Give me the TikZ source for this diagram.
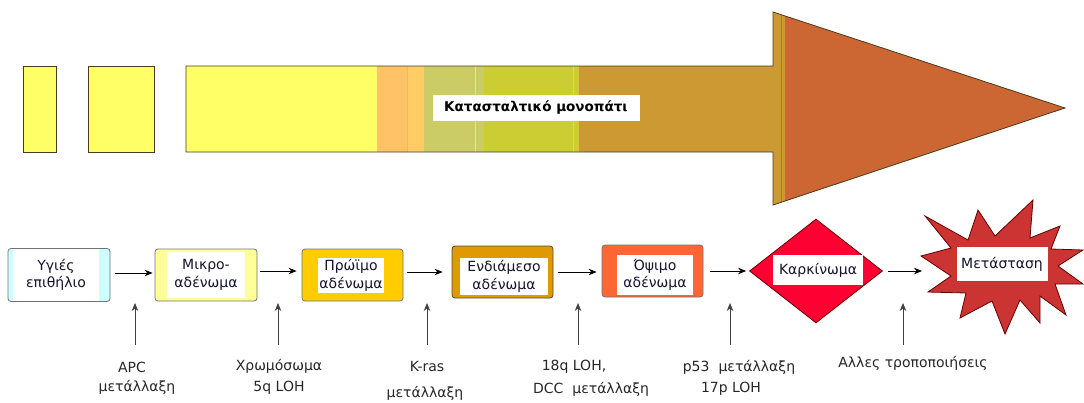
\documentclass[tikz,border=0pt]{standalone}
\usepackage{fontspec}
\setmainfont{DejaVu Sans}
\usetikzlibrary{shapes.geometric,arrows.meta}
\definecolor{ylw}{HTML}{FFFF66}
\definecolor{bandA}{HTML}{FFC266}
\definecolor{bandB}{HTML}{FFCC66}
\definecolor{bandC}{HTML}{CCCC66}
\definecolor{bandD}{HTML}{CCCC33}
\definecolor{bandE}{HTML}{CC9933}
\definecolor{bandF}{HTML}{CC6633}
\definecolor{outl}{HTML}{4A3A20}
\definecolor{cyanb}{HTML}{CCFFFF}
\definecolor{paleY}{HTML}{FFFF99}
\definecolor{gold}{HTML}{FFCC00}
\definecolor{orng}{HTML}{E09A00}
\definecolor{lateO}{HTML}{FF6633}
\definecolor{carc}{HTML}{FF0033}
\definecolor{burst}{HTML}{CC3333}
\definecolor{txt}{HTML}{14142E}
\newcommand{\boxfont}{\fontsize{14}{17.5}\selectfont}
\begin{document}
\begin{tikzpicture}[x=1pt,y=-1pt,
  stagebox/.style={draw=black!55, rounded corners=3pt, line width=0.8pt,
    minimum width=102pt, minimum height=53pt, inner sep=0pt},
  whitebox/.style={fill=white, inner sep=0pt, align=center, font=\boxfont, text=txt},
  flow/.style={-{Stealth[length=8pt,width=6.5pt]}, line width=0.8pt, black},
  upar/.style={-{Stealth[length=8pt,width=6.5pt]}, line width=0.8pt, black!75},
  lbl/.style={font=\boxfont, inner sep=0pt, text=black!85},
  outline/.style={draw=outl, line width=0.8pt}]
\useasboundingbox (0,0) rectangle (1084,402);

% ---- top: pathway arrow ----
\draw[outline, fill=ylw] (23,66) rectangle (56,152);
\draw[outline, fill=ylw] (88,66) rectangle (154,152);
\begin{scope}
  \clip (186,66) -- (773,66) -- (773,12) -- (1065,108) -- (773,205) -- (773,152) -- (186,152) -- cycle;
  \fill[ylw] (180,0) rectangle (377,210);
  \fill[bandA] (377,0) rectangle (408,210);
  \fill[bandB] (408,0) rectangle (424,210);
  \fill[bandC] (424,0) rectangle (484,210);
  \fill[bandD] (484,0) rectangle (579,210);
  \fill[bandE] (579,0) rectangle (785,210);
  \fill[bandF] (785,0) rectangle (1070,210);
  \draw[bandA!80!orange, line width=0.6pt] (407,0) -- (407,210);
  \draw[bandB!70!white, line width=0.6pt] (475,0) -- (475,210);
  \draw[bandB, line width=0.6pt] (573,0) -- (573,210);
  \draw[bandF, line width=0.8pt] (781,0) -- (781,210);
\end{scope}
\draw[outline] (186,66) -- (773,66) -- (773,12) -- (1065,108) -- (773,205) -- (773,152) -- (186,152) -- cycle;
\node[whitebox, font=\fontsize{13.5}{17}\bfseries, text=black, minimum width=207pt, minimum height=26pt] (lab) at (536,108) {Κατασταλτικό μονοπάτι};

% ---- bottom: stages ----
\node[stagebox, fill=cyanb] (b1) at (59,275) {};
\node[whitebox, minimum width=86pt, minimum height=52pt] (t1) at (56,275) {Υγιές\\επιθήλιο};

\node[stagebox, fill=paleY, minimum height=52pt] (b2) at (206,275) {};
\node[whitebox, minimum width=78pt, minimum height=46pt] (t2) at (206,275) {Μικρο-\\αδένωμα};

\node[stagebox, fill=gold, minimum width=101pt, minimum height=52pt] (b3) at (352.5,275) {};
\node[whitebox, minimum width=66pt, minimum height=35pt] (t3) at (351,275.5) {Πρώϊμο\\αδένωμα};

\node[stagebox, fill=orng, draw=black!70, minimum width=101pt, minimum height=52pt] (b4) at (502.5,272) {};
\node[whitebox, minimum width=88pt, minimum height=37pt] (t4) at (504,276.5) {Ενδιάμεσο\\αδένωμα};

\node[stagebox, fill=lateO, minimum width=101pt, minimum height=52pt] (b5) at (652.5,271) {};
\node[whitebox, minimum width=76pt, minimum height=40pt] (t5) at (655,275) {Όψιμο\\αδένωμα};

\node[diamond, fill=carc, draw=black!60!red, line width=0.8pt, minimum width=133pt, minimum height=104pt, inner sep=0pt] (dm) at (816,271) {};
\node[whitebox, minimum width=90pt, minimum height=30pt] (tdm) at (818,270) {Καρκίνωμα};

% starburst (drawn directly)
\draw[fill=burst, draw=black!60!red, line width=0.8pt, line join=miter]
  (925,216) -- (968,240) -- (978,210) -- (995,236) -- (1033,200) -- (1030,238)
  -- (1060,226) -- (1051,249) -- (1083,250) -- (1058,266) -- (1083,284)
  -- (1055,284) -- (1066,315) -- (1040,296) -- (1040,323) -- (1020,300)
  -- (1005,334) -- (992,301) -- (960,318) -- (966,293) -- (928,292)
  -- (951,276) -- (921,256) -- (951,248) -- cycle;
\coordinate (st) at (1003,267);
\node[whitebox, minimum width=91pt, minimum height=34pt] (tst) at (1002,264) {Μετάσταση};

% ---- connectors ----
\draw[flow, shorten <=5pt, shorten >=2pt] (b1.east |- 0,273) -- (b2.west |- 0,273);
\draw[flow, shorten <=3pt, shorten >=5pt] (b2.east |- 0,271) -- (b3.west |- 0,271);
\draw[flow, shorten <=4pt, shorten >=9pt] (b3.east |- 0,272) -- (b4.west |- 0,272);
\draw[flow, shorten <=5pt, shorten >=5pt] (b4.east |- 0,272) -- (b5.west |- 0,272);
\draw[flow, shorten <=7pt, shorten >=3pt] (b5.east |- 0,271) -- (dm.west |- 0,271);
\draw[flow, shorten <=5pt, shorten >=2pt] (dm.east |- 0,271) -- (924,271) coordinate (a6end);

% ---- up arrows and labels ----
\foreach \n/\x in {1/135, 2/278, 3/427, 4/578, 5/730, 6/903}{
  \coordinate (u\n a) at (\x,345);
  \coordinate (u\n b) at (\x,303);
  \draw[upar] (u\n a) -- (u\n b);
}
\node[lbl] (l1a) at (132,367) {APC};
\node[lbl] (l1b) at (137,387) {μετάλλαξη};
\node[lbl] (l2a) at (279,366) {Χρωμόσωμα};
\node[lbl] (l2b) at (279,388) {5q LOH};
\node[lbl] (l3a) at (427,366) {K-ras};
\node[lbl] (l3b) at (425,393) {μετάλλαξη};
\node[lbl] (l4a) at (574,367) {18q LOH,};
\node[lbl] (l4b) at (591,389) {DCC\hspace{9pt}μετάλλαξη};
\node[lbl] (l5a) at (739,367) {p53\hspace{9pt}μετάλλαξη};
\node[lbl] (l5b) at (731,389) {17p LOH};
\node[lbl] (l6a) at (913,363) {Αλλες τροποποιήσεις};
\end{tikzpicture}
\end{document}
